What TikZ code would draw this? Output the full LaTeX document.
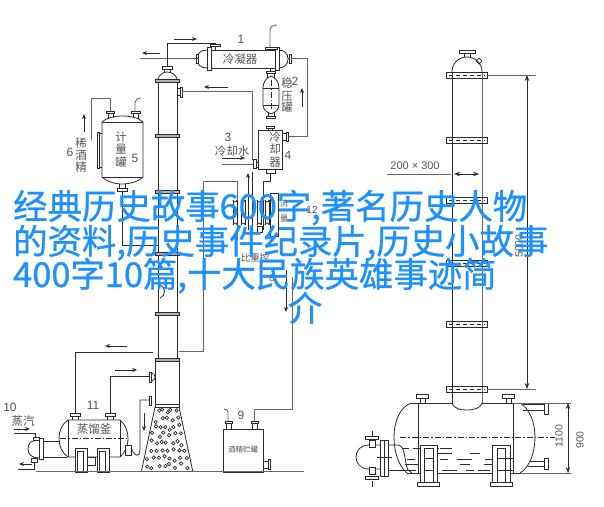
\documentclass[tikz,border=0pt]{standalone}
\usepackage{fontspec}
\setmainfont{Liberation Sans}
\newfontfamily\cjk{Noto Sans CJK SC}
\newfontfamily\cjkb[FakeBold=0.9]{Noto Sans CJK SC}
\usetikzlibrary{arrows.meta}
\definecolor{ink}{HTML}{2A2A2A}
\definecolor{mid}{HTML}{666666}
\definecolor{lab}{HTML}{555555}
\definecolor{over}{HTML}{1E90FF}
\tikzset{
  x=1pt,y=-1pt,
  ln/.style={draw=ink,line width=0.8pt},
  gl/.style={draw=mid,line width=0.9pt},
  arr/.style={draw=ink,line width=0.8pt,-{Stealth[length=5pt,width=4pt]}},
  dbl/.style={draw=ink,line width=0.8pt,{Stealth[length=6pt,width=4.5pt]}-{Stealth[length=6pt,width=4.5pt]}},
  fl/.style={draw=ink,line width=0.8pt,fill=white},
  lb/.style={text=lab,font=\cjk\fontsize{11.5}{12}\selectfont,inner sep=0pt},
  nm/.style={text=lab,font=\fontsize{12}{12}\selectfont,inner sep=0pt},
  big/.style={text=over,font=\cjkb\fontsize{34.4}{34}\selectfont,inner sep=0pt,anchor=base west},
  dd/.style={draw=ink,line width=0.7pt,dash pattern=on 6pt off 2pt on 1.5pt off 2pt},
  ds/.style={draw=ink,line width=0.7pt,dash pattern=on 4pt off 3pt},
}
\newcommand{\Rct}[4]{\path[fl] (#1,#2) rectangle (#3,#4);}
\begin{document}
\begin{tikzpicture}
\useasboundingbox (0,0) rectangle (604,506);
\fill[white] (0,0) rectangle (604,506);

% --- left plant: condenser
\draw[ln] (207,50) -- (278,50) (207,68) -- (278,68);
\draw[ln] (207,50) .. controls (200,50) and (197,54) .. (197,59) .. controls (197,64) and (200,68) .. (207,68);
\draw[ln] (278,50) .. controls (285,50) and (288,54) .. (288,59) .. controls (288,64) and (285,68) .. (278,68);
\Rct{207}{47}{211}{70}\Rct{275}{47}{279}{70}
\Rct{196}{54}{198}{63}\Rct{289}{54}{291}{63}
\draw[ln] (198,58)--(197,58) (288,58)--(289,58);
\draw[gl] (140,58) -- (196,58);
\draw[gl] (291,58) -- (307,58) -- (307,136) -- (288,136);
\draw[arr] (160,53) -- (142,53);
\draw[arr] (302,107) -- (302,88);
\draw[arr] (174,39) -- (197,39);
\draw[ln] (167,67) -- (167,43) -- (215,43) -- (215,50);
\Rct{210}{44}{220}{46}
\Rct{265}{47}{277}{49}
\draw[gl] (270,47) -- (270,31) .. controls (270,27) and (272,25) .. (277,25);
\node[nm] (n1) at (241,39) {1};
\node[lb] (cond) at (240,59) {冷凝器};

% pressure tank
\draw[ln] (270,68) -- (270,71);
\Rct{266}{71}{275}{73}
\draw[ln] (267,73) -- (267,78) (274,73) -- (274,78);
\draw[ln] (263,88) .. controls (263,82) and (266,78) .. (271,76) .. controls (276,78) and (279,82) .. (279,88) -- (279,105) .. controls (279,109) and (276,112) .. (271,114) .. controls (266,112) and (263,109) .. (263,105) -- cycle;
\draw[ln] (263,88) -- (279,88) (263,105) -- (279,105);
\draw[dd] (271,80) -- (271,110);
\draw[ln] (268,112) -- (268,116) (274,112) -- (274,116);
\Rct{266}{116}{275}{118}
\node[lb] (wen) at (287,83) {稳};
\node[lb] (ya) at (287,96) {压};
\node[lb] (guan) at (287,107) {罐};
\node[nm] (n2) at (295,81) {2};

% cooler
\Rct{266}{126}{274}{128}
\draw[ln] (268,128) -- (268,130) (272,128) -- (272,130);
\path[fl] (258,130) rectangle (282,169);
\draw[ln] (282,133) -- (286,133) (282,140) -- (286,140);
\Rct{286}{132}{288}{141}
\draw[ln] (256,162) -- (258,162) (256,167) -- (258,167);
\Rct{253}{159}{256}{168}
\Rct{266}{169}{275}{173}
\node[lb] (l1) at (275,137) {冷};
\node[lb] (l2) at (275,149) {却};
\node[lb] (l3) at (275,162) {器};
\node[nm] (n4) at (288,155) {4};
\node[nm] (n3) at (228,137) {3};
\node[lb] (water) at (232,151) {冷却水};
\draw[arr] (222,158) -- (245,158);
\draw[gl] (222,164) -- (253,164);

% main column left
\draw[ln] (158,79) -- (158,358) (177,79) -- (177,358);
\draw[ln] (158,79) .. controls (159,75) and (163,72) .. (167,72) .. controls (172,72) and (176,75) .. (177,79);
\draw[ln] (164,69) -- (164,73) (170,69) -- (170,73);
\Rct{162}{66}{172}{69}
\foreach \yy in {79,134,190,252,312,358}{\path[fl,fill=mid!50] (155,\yy) rectangle (179,\yy+3);}
\draw[ln] (177,88) -- (180,88) (177,95) -- (180,95);
\Rct{180}{87}{182}{97}
\draw[gl] (182,91) -- (252,91) -- (252,160);
\draw[arr] (228,87) -- (204,87);
\draw[ln] (160,285) .. controls (166,287) and (166,296) .. (160,298);

% measure tank
\path[fl] (102,122) .. controls (106,118) and (114,116) .. (122,116) .. controls (131,116) and (139,118) .. (143,122) -- (143,177) .. controls (139,181) and (131,184) .. (122,184) .. controls (114,184) and (106,181) .. (102,177) -- cycle;
\draw[ln] (102,122) -- (143,122) (102,177) -- (143,177);
\path[fl] (97,132) rectangle (99,168);
\draw[ln] (99,133) -- (102,133) (99,167) -- (102,167);
\draw[ln] (108,113) -- (108,119) (113,113) -- (113,118) (133,113) -- (133,118) (138,113) -- (138,119);
\Rct{106}{111}{114}{113}\Rct{131}{111}{140}{113}
\draw[gl] (110,111) -- (110,98) -- (91,98) -- (91,140);
\draw[gl] (135,111) -- (135,103) .. controls (135,100) and (137,98) .. (141,98);
\draw[arr] (84,132) -- (84,114);
\draw[ln] (119,184) -- (119,189) (125,184) -- (125,189);
\Rct{117}{188}{127}{191}
\draw[ln] (122,191) -- (122,245) -- (158,245);
\node[lb] (j1) at (81,143) {稀};
\node[lb] (j2) at (81,155) {酒};
\node[lb] (j3) at (81,167) {精};
\node[nm] (n6) at (70,152) {6};
\node[lb] (m1) at (121,137) {计};
\node[lb] (m2) at (121,149) {量};
\node[lb] (m3) at (121,162) {罐};
\node[nm] (n5) at (135,158) {5};

% middle piping
\draw[gl] (237,240) -- (237,181) -- (203,181) -- (203,351) -- (179,351);
\draw[arr] (248,230) -- (248,173);
\draw[ln] (252,172) -- (252,232);
\draw[ln] (270,173) -- (270,181) -- (263,181) -- (263,230);
\foreach \xx in {233,241,257,265}{\draw[ln] (\xx,200) -- (\xx,225); \draw[ln] (\xx+4,200) -- (\xx+4,225); \draw[ln] (\xx,200) arc[start angle=180,end angle=0,radius=2]; \draw[ln] (\xx,225) arc[start angle=180,end angle=360,radius=2];}
\draw[ln] (270,193) -- (278,193) -- (278,236) -- (270,236) -- cycle;
\Rct{257}{226}{262}{232}
\node[lb,font=\cjk\fontsize{8}{10}\selectfont] (f1) at (284,203) {流};
\node[lb,font=\cjk\fontsize{8}{10}\selectfont] (f2) at (284,218) {量};
\node[nm,font=\fontsize{10}{10}\selectfont] (n12) at (312,210) {12};
\node[lb,font=\cjk\fontsize{9.5}{10}\selectfont] (bz) at (255,258) {比重控};
\node[nm,font=\fontsize{10}{10}\selectfont] (n8) at (272,278) {8};
\draw[arr] (286,270) -- (286,312);
\draw[gl] (292,277) -- (292,409) -- (254,409) -- (254,422);

% lower column
\draw[ln] (155,362) -- (155,405) (179,362) -- (179,405);
\path[fl,fill=white] (155,404) rectangle (179,407);
\draw[ln] (155,407) -- (141.5,471) (179,407) -- (192.7,471);
\pgfmathsetseed{17}
\foreach \r in {0,...,7}{
  \pgfmathsetmacro{\ry}{412+\r*7.7}
  \pgfmathsetmacro{\hw}{11+\r*1.75}
  \pgfmathtruncatemacro{\cnt}{4+\r*0.5}
  \foreach \c in {0,...,\cnt}{
    \pgfmathsetmacro{\cx}{167-\hw+2*\hw*(\c+0.5)/(\cnt+1)+rand*1.4}
    \pgfmathsetmacro{\cy}{\ry+rand*2.6}
    \draw[ink,line width=0.7pt] (\cx,\cy) circle[radius=1.7];
  }
}
\draw[ln] (153,352) -- (75,352) -- (75,413);
\draw[arr] (127,346) -- (105,346);
\draw[ln] (149,376) -- (110,376) -- (110,413);
\draw[arr] (115,370) -- (137,370);
\Rct{149}{372}{151}{382}
\draw[ln] (151,373) .. controls (156,373) and (157,381) .. (151,381);
\Rct{149}{396}{151}{405}
\draw[ln] (149,400) -- (140,400) -- (140,450) .. controls (140,458) and (134,456) .. (132,450) .. controls (131,447) and (130,447) .. (128,447);
\draw[arr] (144,413) -- (144,431);

% still
\path[fl] (68,420) -- (120,420) .. controls (125,424) and (128,431) .. (128,438) .. controls (128,446) and (125,453) .. (120,457) -- (68,457) .. controls (62,453) and (59,446) .. (59,438) .. controls (59,431) and (62,424) .. (68,420) -- cycle;
\draw[ln] (68,420) -- (68,457) (120,420) -- (120,457);
\draw[dd] (60,438) -- (127,438);
\draw[ln] (72,416) -- (72,420) (78,416) -- (78,420) (107,416) -- (107,420) (113,416) -- (113,420);
\Rct{70}{413}{80}{416}\Rct{105}{413}{115}{416}
\path[fl] (75,448) rectangle (87,472);
\path[fl] (97,448) rectangle (109,472);
\Rct{77}{451}{83}{472}\Rct{99}{451}{105}{472}
\Rct{87}{457}{95}{465}
\Rct{125}{445}{131}{455}
\node[lb] (still) at (94,429) {蒸馏釜};
\node[nm] (n11) at (93,405) {11};
% reboiler
\draw[ln] (40,441) .. controls (30,439) and (28,444) .. (28,449) .. controls (28,454) and (31,458) .. (40,458);
\Rct{39}{438}{43}{459}
\draw[ln] (43,441) -- (60,441) (43,457) -- (67,457);
\Rct{33}{437}{39}{440}\Rct{31}{458}{37}{462}
\draw[ln] (14,433) -- (35,433) -- (35,437);
\draw[arr] (14,429) -- (30,429);
\draw[ln] (34,462) -- (34,469) -- (18,469);
\draw[arr] (32,464) -- (19,464);
\node[nm] (n10) at (10,407) {10};
\node[lb] (steam) at (23,421) {蒸汽};

% alcohol tank
\path[fl] (223,429) rectangle (263,472);
\draw[ln] (226,423) -- (226,429) (231,423) -- (231,429) (252,423) -- (252,429) (257,423) -- (257,429);
\Rct{225}{421}{232}{423}\Rct{251}{421}{258}{423}
\draw[gl] (228,421) -- (228,412) .. controls (228,410) and (226,409) .. (224,409);
\draw[ln] (263,461) -- (268,461) (263,468) -- (268,468);
\Rct{268}{459}{270}{469}
\node[nm] (n9) at (241,415) {9};
\node[lb,font=\cjk\fontsize{7.5}{8}\selectfont] (store) at (243,450) {酒精贮罐};

\draw[mid,line width=1.3pt] (36,471.7) -- (304,471.7);

% --- right drawing: tall column
\draw[ln] (452,72) .. controls (452,63) and (459,57) .. (467,57) .. controls (475,57) and (482,63) .. (482,72);
\draw[ln] (452,72) -- (452,403);
\draw[gl] (482,72) -- (482,403);
\draw[ln] (464,53) -- (464,57) (470,53) -- (470,57);
\Rct{459}{50}{475}{53}
\draw[ln,rotate around={45:(479,61)}] (477,59) rectangle (481,63);
\foreach \yy in {72,137,197,260,321,386}{
  \draw[ln] (446,\yy) rectangle (487,\yy+6);
  \draw[ds] (449,\yy+3) -- (485,\yy+3);
}
\draw[ln] (452,403) .. controls (454,409) and (461,410) .. (467,410) .. controls (474,410) and (481,408) .. (482,403);
\draw[gl] (487,75) -- (536,75) (487,389) -- (536,389);
\draw[dbl] (527,75) -- (527,389);
\node[nm,rotate=90,font=\fontsize{10.5}{10}\selectfont] (h5000) at (519,246) {5000};
\node[nm,font=\fontsize{11}{11}\selectfont] (size) at (415,166) {200 × 300};
\draw[gl] (387,174) -- (451,174);
\draw[dbl] (454,174) -- (479,174);

% horizontal vessel
\draw[ln] (411.7,403) -- (452,403) (482,403) -- (520,403) (407,473) -- (520,473);
\draw[ln] (411.7,403) .. controls (400,406) and (394,422) .. (394,437) .. controls (394,452) and (399,467) .. (407,473);
\draw[ln] (520,403) .. controls (530,409) and (535,423) .. (535,437) .. controls (535,452) and (530,467) .. (520,473);
\draw[ln] (418,403) -- (418,473) (513,403) -- (513,473);
\draw[dd] (400,437) -- (555,437);
\draw[ln] (420,398) -- (420,403) (425,398) -- (425,403) (506,398) -- (506,403) (511,398) -- (511,403);
\Rct{416}{394}{428}{398}\Rct{502}{394}{514}{398}
\draw[ln] (523,404) -- (544,404) (523,410) -- (544,410);
\Rct{544}{403}{548}{414}
\draw[ln] (530,461) -- (544,461) (528,466) -- (544,466);
\Rct{544}{458}{548}{469}
\draw[gl] (513,403) -- (571,403) (520,473) -- (571,473);
\draw[dbl] (568,403) -- (568,473);
\node[nm,rotate=90,font=\fontsize{10.5}{10}\selectfont] (h1100) at (559,436) {1100};
\node[nm,rotate=90,font=\fontsize{10.5}{10}\selectfont] (h900) at (580,440) {900};
% liquid
\draw[ds,dash pattern=on 6pt off 4pt on 12pt off 8pt] (403,448) -- (452,448);
\draw[ln] (440,448) -- (451,448);
\foreach \yy/\xa/\xb in {453/437/452,453/470/480,459/407/415,459/440/448,459/457/472,459/485/492,464/405/418,464/460/470,464/484/492,470/407/416,470/442/457,470/466/474,470/478/490}{\draw[ln] (\xa,\yy) -- (\xb,\yy);}
% saddles
\path[fl] (420,445) rectangle (437,482);
\path[fl] (424,448) rectangle (433,482);
\draw[ln] (424,458) -- (433,458) (424,470) -- (433,470);
\path[fl] (417,482) rectangle (439,486);
\path[fl] (492,445) rectangle (510,482);
\path[fl] (497,448) rectangle (505,482);
\draw[ln] (497,458) -- (513,458) (497,470) -- (513,470);
\path[fl] (490,482) rectangle (512,486);
% right heat exchanger
\draw[ln] (380,445) -- (369,445) .. controls (360,445) and (356,451) .. (356,457) .. controls (356,463) and (360,469) .. (369,469) -- (380,469);
\Rct{380}{440}{384}{476}\Rct{384}{440}{388}{476}
\draw[ln] (388,445) -- (398,445) .. controls (406,446) and (404,462) .. (408,470) -- (412,473);
\draw[ln] (388,470) -- (407,470);
\draw[ln] (377,457) -- (392,457);
\Rct{369}{440}{375}{447}\Rct{369}{467}{375}{474}
\Rct{365}{436}{378}{439}\Rct{365}{476}{378}{479}
\draw[ln] (372,431) -- (372,436) (372,481) -- (372,487);

% overlay title
\node[big] (t1) at (13,219) {经典历史故事600字,著名历史人物};
\node[big] (t2) at (13,254) {的资料,历史事件纪录片,历史小故事};
\node[big] (t3) at (13,287) {400字10篇,十大民族英雄事迹简};
\node[big,anchor=base] (t4) at (305,321) {介};
\end{tikzpicture}
\end{document}
